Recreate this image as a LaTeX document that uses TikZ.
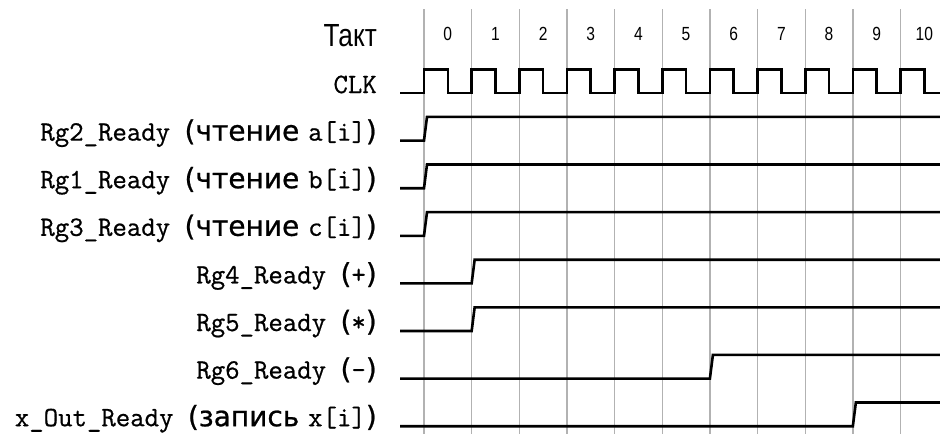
\documentclass[tikz,border=0pt]{standalone}
\usepackage{fontspec}
\newfontfamily\nsans[FakeStretch=0.82]{Liberation Sans}
\newfontfamily\dsans[FakeBold=0.8]{DejaVu Sans}
\newfontfamily\mono[FakeBold=0.7]{Latin Modern Mono}
\definecolor{gridgray}{RGB}{178,178,178}
\newcommand\cy[1]{{\dsans\fontsize{28}{30}\selectfont #1}}
\newcommand\stepsig[2]{%
  \draw[sig] (400,#1) -- ({424+47.65*#2},#1) -- ({427+47.65*#2},{#1-23.7}) -- (940,{#1-23.7});}
\begin{document}
\begin{tikzpicture}[x=1pt,y=-1pt,
  gridline/.style={draw=gridgray,line width=1.3pt},
  sig/.style={draw=black,line width=2.6pt,line join=miter},
  lbl/.style={anchor=base east,inner sep=0pt,font=\mono\fontsize{28}{30}\selectfont},
  ticklbl/.style={anchor=base,inner sep=0pt,font=\nsans\fontsize{19}{22}\selectfont}]
\useasboundingbox (0,0) rectangle (940,434);
% grid and tick labels
\foreach \k in {0,...,10} {
  \draw[gridline] ({424+47.65*\k},9) -- ({424+47.65*\k},434);
  \node[ticklbl] (t\k) at ({447.8+47.65*\k},40) {\k};
}
% labels
\node[lbl,font=\nsans\fontsize{32}{34}\selectfont] (takt) at (377,46) {Такт};
\node[lbl] (clk) at (377,93) {CLK};
\node[lbl] (l2) at (377,140.6) {Rg2\_Ready \cy{(чтение }a[i]\cy{)}};
\node[lbl] (l1) at (377,188.2) {Rg1\_Ready \cy{(чтение }b[i]\cy{)}};
\node[lbl] (l3) at (377,235.8) {Rg3\_Ready \cy{(чтение }c[i]\cy{)}};
\node[lbl] (l4) at (377,283.4) {Rg4\_Ready \cy{(}+\cy{)}};
\node[lbl] (l5) at (377,331) {Rg5\_Ready \cy{(}*\cy{)}};
\node[lbl] (l6) at (377,378.6) {Rg6\_Ready \cy{(}-\cy{)}};
\node[lbl] (l7) at (377,426.2) {x\_Out\_Ready \cy{(запись }x[i]\cy{)}};
% clock
\draw[sig] (400,93) \foreach \k in {0,...,10} {
  -- ({424+47.65*\k},93) -- ({424+47.65*\k},69.3)
  -- ({447.8+47.65*\k},69.3) -- ({447.8+47.65*\k},93) } -- (940,93);
% ready signals
\stepsig{140.6}{0}
\stepsig{188.2}{0}
\stepsig{235.8}{0}
\stepsig{283.4}{1}
\stepsig{331}{1}
\stepsig{378.6}{6}
\stepsig{426.2}{9}
\end{tikzpicture}
\end{document}
